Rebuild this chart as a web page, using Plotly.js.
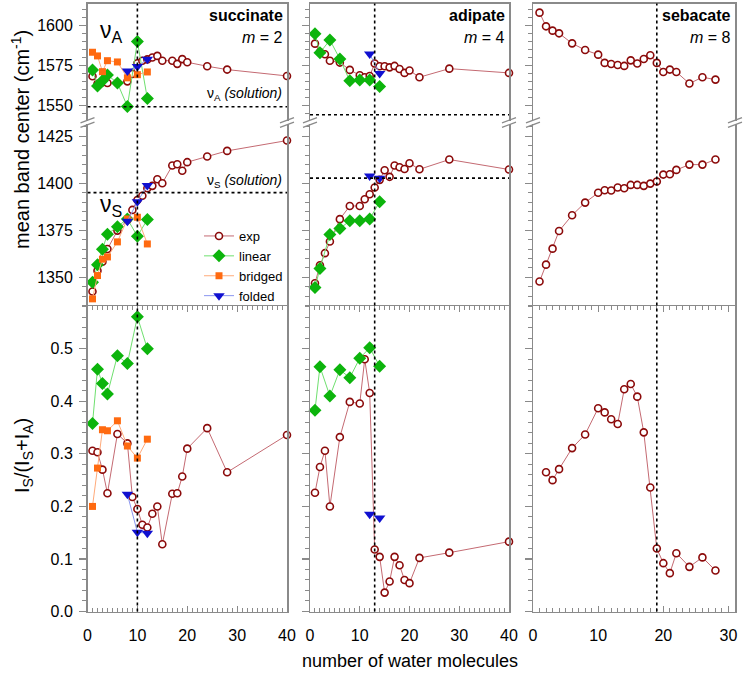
<!DOCTYPE html>
<html>
<head>
<meta charset="utf-8">
<script src="https://cdn.plot.ly/plotly-3.0.1.min.js"></script>
<style>html,body{margin:0;padding:0;background:#fff}#chart{width:746px;height:675px}</style>
</head>
<body>
<div id="chart"></div>
<script>
// ---------- DATA ----------
const seriesNames = ["exp", "linear", "bridged", "folded"];
const panelNames = ["succinate", "adipate", "sebacate"];
const panelM = ["2", "4", "8"];
const crossover = [10, 13, 19];
const vA_solution = [1549, 1544];
const vS_solution = [1395, 1402.7];

// succinate (m = 2)
const succ_n_exp = [1,2,3,4,6,8,9,10,11,12,13,14,15,17,18,19,20,24,28,40];
const succ_vA_exp = [1568.2,1563.4,1564.5,1564,1564,1565,1569.7,1576.4,1578,1578.8,1580,1581,1578,1578,1576,1579,1577,1574.5,1572.4,1568.4];
const succ_vS_exp = [1342.4,1353.5,1358.3,1365,1374.8,1380.5,1385.8,1391.1,1393.3,1397.3,1398.6,1402.1,1400,1409.4,1410.1,1406.6,1411.2,1414.2,1417.2,1422.7];
const succ_r_exp = [0.306,0.303,0.270,0.225,0.338,0.320,0.218,0.195,0.165,0.160,0.186,0.200,0.128,0.224,0.225,0.257,0.310,0.349,0.265,0.336];
const succ_n_calc = [1,2,3,4,6,8,10,12];
const succ_vA_linear = [1572.2,1562.1,1565.3,1569,1564,1549.2,1590,1554.2];
const succ_vS_linear = [1347.3,1356.7,1364.9,1372.9,1376.9,1381,1371.8,1380.7];
const succ_r_linear = [0.358,0.461,0.434,0.414,0.487,0.472,0.561,0.500];
const succ_vA_bridged = [1583.3,1581,1571.1,1578,1577.2,1567.2,1569.2,1570.9];
const succ_vS_bridged = [1338.5,1350.9,1359.6,1360.8,1368.8,1381,1381.9,1367.7];
const succ_r_bridged = [0.200,0.273,0.346,0.344,0.363,0.315,0.292,0.328];
const succ_n_folded = [8,10,12];
const succ_vA_folded = [1571.5,1574.3,1578.9];
const succ_vS_folded = [1379.8,1390.2,1398.8];
const succ_r_folded = [0.223,0.151,0.149];

// adipate (m = 4)
const adip_n_exp = [1,2,3,4,6,8,10,11,12,13,14,15,16,17,18,19,20,22,28,40];
const adip_vA_exp = [1588.7,1583.5,1582,1578,1576.8,1572.2,1568.8,1567.6,1568.4,1576.2,1574.5,1574.5,1573.8,1574.7,1572.8,1570.3,1571.8,1567.6,1573,1570.3];
const adip_vS_exp = [1346.8,1356.4,1362.8,1369,1380.9,1387.9,1387.9,1391.5,1394.1,1397.7,1401.8,1406.9,1403.4,1409.4,1408.5,1407.6,1410.6,1407.4,1412.6,1407.3];
const adip_r_exp = [0.226,0.275,0.306,0.200,0.332,0.399,0.396,0.480,0.416,0.118,0.104,0.036,0.057,0.104,0.088,0.060,0.054,0.102,0.112,0.133];
const adip_n_linear = [1,2,4,6,8,10,12,14];
const adip_vA_linear = [1595,1583,1591,1579.1,1565.3,1565.9,1565.9,1561.7];
const adip_vS_linear = [1344.5,1354.6,1372.7,1375.9,1380,1380,1381,1390.1];
const adip_r_linear = [0.383,0.466,0.410,0.460,0.445,0.482,0.502,0.467];
const adip_n_folded = [12,14];
const adip_vA_folded = [1582.2,1570];
const adip_vS_folded = [1403.9,1402.7];
const adip_r_folded = [0.185,0.178];

// sebacate (m = 8)
const seb_n_exp = [1,2,3,4,6,8,10,11,12,13,14,15,16,17,18,19,20,21,22,24,26,28];
const seb_vA_exp = [1608.2,1599.6,1596.9,1595.2,1588.9,1584.7,1581.8,1576.6,1575.9,1575.3,1574.7,1578.2,1576.2,1579.1,1581.4,1576.6,1570.9,1572.4,1570.9,1563.6,1567.6,1566.1];
const seb_vS_exp = [1347.7,1356.7,1365.2,1374.6,1383,1389.7,1394.9,1396.3,1396.1,1397.7,1397.3,1399.1,1399.1,1398.6,1399.8,1400.9,1404.6,1404.8,1407.1,1409.9,1409.9,1412.6];
const seb_r_exp = [null,0.265,0.250,0.271,0.311,0.337,0.387,0.379,0.366,0.357,0.423,0.433,0.409,0.341,0.236,0.120,0.092,0.073,0.111,0.085,0.103,0.078];

// ---------- STYLE / LAYOUT ----------
const W = 746, H = 675;
const FONT = "Liberation Sans, Arial, Helvetica, sans-serif";
const AX = "#8a8a8a";
const px = v => v / W;
const py = v => 1 - v / H;
const colPx = [[87.5, 287], [310, 509], [533, 735]];
const rowPx = [[3.5, 121], [124, 306], [306, 611.5]];
const xRanges = [[0, 40], [0, 40], [0, 31]];
const yRanges = [[1540.06, 1613.96], [1334.7, 1431.5], [0, 0.5815]];

const styles = {
  exp:     {mode: "lines+markers", line: {color: "#c46a72", width: 1}, marker: {symbol: "circle", size: 7, color: "#ffffff", line: {color: "#8b0a0a", width: 1.6}}},
  linear:  {mode: "lines+markers", line: {color: "#6fe06f", width: 1}, marker: {symbol: "diamond", size: 10, color: "#0cb40c", line: {width: 0}}},
  bridged: {mode: "lines+markers", line: {color: "#ffaa7a", width: 1}, marker: {symbol: "square", size: 7, color: "#ff6a10", line: {width: 0}}},
  folded:  {mode: "lines+markers", line: {color: "#8a96f0", width: 1}, marker: {symbol: "triangle-down", size: 10, color: "#1010d0", line: {width: 0}}}
};

const panels = [
  {exp: [succ_n_exp, [succ_vA_exp, succ_vS_exp, succ_r_exp]],
   linear: [succ_n_calc, [succ_vA_linear, succ_vS_linear, succ_r_linear]],
   bridged: [succ_n_calc, [succ_vA_bridged, succ_vS_bridged, succ_r_bridged]],
   folded: [succ_n_folded, [succ_vA_folded, succ_vS_folded, succ_r_folded]]},
  {exp: [adip_n_exp, [adip_vA_exp, adip_vS_exp, adip_r_exp]],
   linear: [adip_n_linear, [adip_vA_linear, adip_vS_linear, adip_r_linear]],
   folded: [adip_n_folded, [adip_vA_folded, adip_vS_folded, adip_r_folded]]},
  {exp: [seb_n_exp, [seb_vA_exp, seb_vS_exp, seb_r_exp]]}
];

const traces = [];
for (let c = 0; c < 3; c++) {
  for (const s of seriesNames) {
    const p = panels[c][s];
    if (!p) continue;
    for (let r = 0; r < 3; r++) {
      const idx = r * 3 + c + 1;
      const st = styles[s];
      traces.push({
        type: "scatter", x: p[0], y: p[1][r], name: s,
        xaxis: "x" + idx, yaxis: "y" + idx,
        mode: st.mode, line: st.line, marker: st.marker,
        legendgroup: s, showlegend: (c === 0 && r === 1),
        cliponaxis: false, connectgaps: false, hoverinfo: "x+y"
      });
    }
  }
}

const layout = {
  width: W, height: H,
  margin: {l: 0, r: 0, t: 0, b: 0},
  paper_bgcolor: "#ffffff", plot_bgcolor: "rgba(0,0,0,0)",
  font: {family: FONT, size: 16, color: "#000"},
  showlegend: true,
  legend: {x: px(199), y: py(221), xanchor: "left", yanchor: "top", bgcolor: "rgba(0,0,0,0)",
           font: {family: FONT, size: 13, color: "#000"}, tracegroupgap: 0, borderwidth: 0},
  shapes: [], annotations: []
};

for (let r = 0; r < 3; r++) {
  for (let c = 0; c < 3; c++) {
    const idx = r * 3 + c + 1;
    const xd = [px(colPx[c][0]), px(colPx[c][1])];
    const yd = [py(rowPx[r][1]), py(rowPx[r][0])];
    const xa = {domain: xd, anchor: "y" + idx, range: xRanges[c], showgrid: false, zeroline: false, fixedrange: true};
    const ya = {domain: yd, anchor: "x" + idx, range: yRanges[r], showgrid: false, zeroline: false, fixedrange: true,
                showline: true, mirror: true, linecolor: AX, linewidth: 1.5,
                ticks: "outside", ticklen: 7, tickwidth: 1.2, tickcolor: AX,
                showticklabels: c === 0, tickfont: {family: FONT, size: 16, color: "#000"}, ticklabelstandoff: 3};
    if (r === 0) {
      Object.assign(xa, {side: "top", showline: true, linecolor: AX, linewidth: 1.5, ticks: "", showticklabels: false});
      Object.assign(ya, {tick0: 0, dtick: 25, minor: {dtick: 5, ticks: "outside", ticklen: 4, tickcolor: AX, tickwidth: 1}});
    } else if (r === 1) {
      Object.assign(xa, {showline: false, ticks: "", showticklabels: false});
      Object.assign(ya, {tick0: 0, dtick: 25, minor: {dtick: 5, ticks: "outside", ticklen: 4, tickcolor: AX, tickwidth: 1}});
    } else {
      Object.assign(xa, {showline: true, mirror: "ticks", linecolor: AX, linewidth: 1.5,
                         ticks: "inside", ticklen: 6, tickwidth: 1.2, tickcolor: AX, tick0: 0, dtick: 10,
                         minor: {dtick: 1, ticks: "inside", ticklen: 3.5, tickcolor: AX, tickwidth: 1},
                         showticklabels: true, tickfont: {family: FONT, size: 16, color: "#000"}, ticklabelstandoff: 9});
      Object.assign(ya, {tick0: 0, dtick: 0.1, tickformat: ".1f",
                         minor: {dtick: 0.02, ticks: "outside", ticklen: 4, tickcolor: AX, tickwidth: 1}});
    }
    layout["xaxis" + idx] = xa;
    layout["yaxis" + idx] = ya;
  }
}
// outside part of the major x ticks on the bottom row
for (let c = 0; c < 3; c++) {
  const idx = 7 + c;
  layout["xaxis" + (10 + c)] = {overlaying: "x" + idx, anchor: "y" + idx, range: xRanges[c], showgrid: false, zeroline: false,
    showline: false, ticks: "outside", ticklen: 4, tickwidth: 1.2, tickcolor: AX, tick0: 0, dtick: 10, showticklabels: false, fixedrange: true};
}

// dotted vertical crossover lines through all rows
for (let c = 0; c < 3; c++) {
  layout.shapes.push({type: "line", xref: "x" + (7 + c), yref: "paper", x0: crossover[c], x1: crossover[c],
    y0: py(rowPx[2][1]), y1: py(rowPx[0][0]), line: {color: "#000", width: 1.6, dash: "dot"}, layer: "above"});
}
// dotted horizontal solution lines
for (let c = 0; c < 2; c++) {
  layout.shapes.push({type: "line", xref: "x" + (1 + c), yref: "y" + (1 + c), x0: xRanges[c][0], x1: xRanges[c][1],
    y0: vA_solution[c], y1: vA_solution[c], line: {color: "#000", width: 1.6, dash: "dot"}});
  layout.shapes.push({type: "line", xref: "x" + (4 + c), yref: "y" + (4 + c), x0: xRanges[c][0], x1: xRanges[c][1],
    y0: vS_solution[c], y1: vS_solution[c], line: {color: "#000", width: 1.6, dash: "dot"}});
}
// axis break marks
for (let c = 0; c < 3; c++) {
  for (const xb of colPx[c]) {
    for (const yb of [120.2, 124.8]) {
      layout.shapes.push({type: "line", xref: "paper", yref: "paper",
        x0: px(xb - 7), y0: py(yb + 2.6), x1: px(xb + 7), y1: py(yb - 2.6),
        line: {color: AX, width: 1.3}});
    }
  }
}

// panel labels
for (let c = 0; c < 3; c++) {
  const xr = px(colPx[c][1] - 2);
  layout.annotations.push({xref: "paper", yref: "paper", x: xr, y: py(15), xanchor: "right", yanchor: "middle",
    text: "<b>" + panelNames[c] + "</b>", showarrow: false, font: {family: FONT, size: 16, color: "#000"}});
  layout.annotations.push({xref: "paper", yref: "paper", x: xr, y: py(38), xanchor: "right", yanchor: "middle",
    text: "<i>m</i> = " + panelM[c], showarrow: false, font: {family: FONT, size: 16, color: "#000"}});
}
layout.annotations.push({xref: "paper", yref: "paper", x: px(98), y: py(31), xanchor: "left", yanchor: "middle",
  text: "ν<sub>A</sub>", showarrow: false, font: {family: FONT, size: 23, color: "#000"}});
layout.annotations.push({xref: "paper", yref: "paper", x: px(98), y: py(205), xanchor: "left", yanchor: "middle",
  text: "ν<sub>S</sub>", showarrow: false, font: {family: FONT, size: 23, color: "#000"}});
layout.annotations.push({xref: "paper", yref: "paper", x: px(284), y: py(94), xanchor: "right", yanchor: "middle",
  text: "ν<sub>A</sub> <i>(solution)</i>", showarrow: false, font: {family: FONT, size: 14, color: "#000"}});
layout.annotations.push({xref: "paper", yref: "paper", x: px(284), y: py(181), xanchor: "right", yanchor: "middle",
  text: "ν<sub>S</sub> <i>(solution)</i>", showarrow: false, font: {family: FONT, size: 14, color: "#000"}});

// axis titles
layout.annotations.push({xref: "paper", yref: "paper", x: px(21), y: py(140), xanchor: "center", yanchor: "middle",
  textangle: -90, text: "mean band center (cm<sup>-1</sup>)", showarrow: false, font: {family: FONT, size: 20, color: "#000"}});
layout.annotations.push({xref: "paper", yref: "paper", x: px(23), y: py(456), xanchor: "center", yanchor: "middle",
  textangle: -90, text: "I<sub>S</sub>/(I<sub>S</sub>+I<sub>A</sub>)", showarrow: false, font: {family: FONT, size: 20, color: "#000"}});
layout.annotations.push({xref: "paper", yref: "paper", x: px(410), y: py(661), xanchor: "center", yanchor: "middle",
  text: "number of water molecules", showarrow: false, font: {family: FONT, size: 18, color: "#000"}});

Plotly.newPlot("chart", traces, layout, {staticPlot: true, displayModeBar: false});
</script>
</body>
</html>
